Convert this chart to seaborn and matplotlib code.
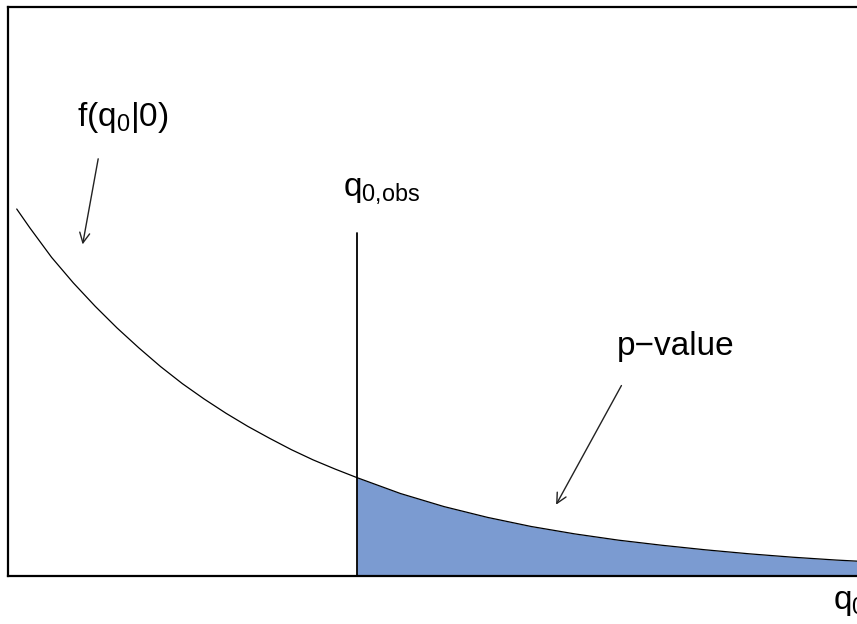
import matplotlib
matplotlib.use("Agg")
import matplotlib.pyplot as plt
import seaborn as sns
import numpy as np

# density curve f(q0|0)
q_vals = [0.1, 0.25, 0.5, 0.75, 1.0, 1.25, 1.5, 1.75, 2.0, 2.25, 2.5, 2.75,
          3.0, 3.25, 3.5, 3.75, 4.0, 4.5, 5.0, 5.5, 6.0, 6.5, 7.0, 7.5,
          8.0, 8.5, 9.0, 9.5, 10.0]
f_vals = [0.645, 0.612, 0.56, 0.515, 0.474, 0.436, 0.401, 0.368, 0.338, 0.311, 0.286, 0.263,
          0.242, 0.222, 0.204, 0.188, 0.173, 0.145, 0.122, 0.103, 0.087, 0.074, 0.063, 0.054,
          0.046, 0.039, 0.033, 0.028, 0.024]
q_obs = 4.0
obs_top = 0.603

sns.set_style("white")
plt.rcParams["font.family"] = ["Liberation Sans", "DejaVu Sans"]
plt.rcParams["mathtext.fontset"] = "custom"
plt.rcParams["mathtext.rm"] = "Liberation Sans"
plt.rcParams["mathtext.default"] = "regular"

fig = plt.figure(figsize=(8.57, 6.24), dpi=100)
# axes runs past the right edge like in the original
ax = fig.add_axes([8 / 857, 48 / 624, 872 / 857, 569 / 624])

q = np.array(q_vals)
f = np.array(f_vals)
mask = q >= q_obs
ax.fill_between(q[mask], 0, f[mask], color="#7b9bd1", linewidth=0, zorder=1)
sns.lineplot(x=q_vals, y=f_vals, color="black", linewidth=0.9, ax=ax, zorder=2)
ax.plot([q_obs, q_obs], [0, obs_top], color="black", linewidth=1.3, zorder=3)

ax.set_xlim(0, 10)
ax.set_ylim(0, 1)
ax.set_xticks([])
ax.set_yticks([])
for s in ax.spines.values():
    s.set_color("black")
    s.set_linewidth(1.6)

fs = 24
ax.text(0.79, 0.79, "f(q$_0$|0)", fontsize=fs, ha="left", va="baseline", color="black")
ax.annotate("", xy=(0.85, 0.578), xytext=(1.04, 0.738),
            arrowprops=dict(arrowstyle="->", color="#222222", lw=1.0,
                            mutation_scale=18))
ax.text(3.84, 0.668, "q$_{0{,}obs}$", fontsize=fs, ha="left", va="baseline", color="black")
ax.text(6.98, 0.388, "p\u2212value", fontsize=fs, ha="left", va="baseline", color="black")
ax.annotate("", xy=(6.27, 0.121), xytext=(7.05, 0.339),
            arrowprops=dict(arrowstyle="->", color="#222222", lw=1.0,
                            mutation_scale=18))
ax.text(9.46, -0.019, "q$_0$", fontsize=fs, ha="left", va="top", color="black",
        clip_on=False)

fig.savefig("out.png", dpi=100)
